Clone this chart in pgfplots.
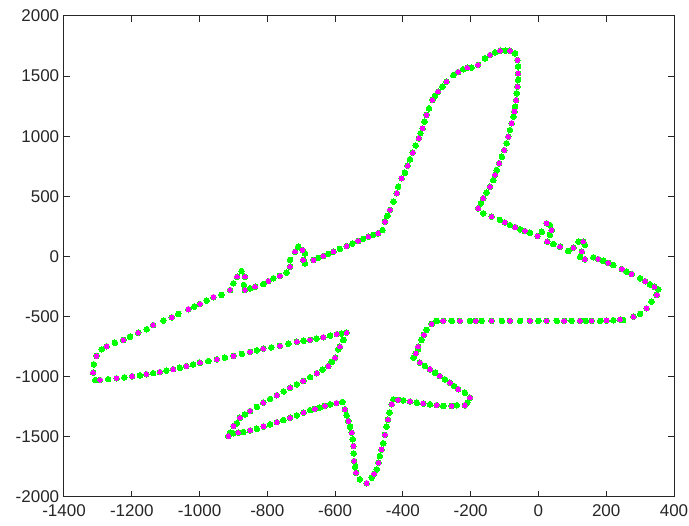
\documentclass[border=0pt]{standalone}
\usepackage{pgfplots}
\pgfplotsset{compat=1.18}
\usepackage{pgfplotstable}
\usepackage{fontspec}
\setmainfont{Liberation Sans}
\usetikzlibrary{calc}
\definecolor{pgreen}{RGB}{0,255,0}
\definecolor{pmag}{RGB}{255,0,255}
\pgfplotstableread{
x y
-113 1711
-98 1712
-84 1711
-69 1690
-62 1634
-60 1580
-60 1523
-60 1468
-62 1412
-64 1357
-66 1300
-69 1246
-71 1205
-74 1163
-79 1108
-84 1052
-89 996
-94 941
-101 885
-108 830
-116 775
-123 719
-128 678
-133 636
-143 580
-153 532
-163 484
-170 442
-178 401
-163 359
-138 331
-114 304
-99 283
-84 262
-69 244
-54 226
-40 212
-25 198
-3 170
10 206
24 276
34 262
39 220
34 179
26 123
44 104
64 81
88 46
103 73
118 123
132 123
137 96
128 40
123 -2
137 -23
162 -7
176 -21
191 -35
206 -53
221 -71
246 -104
260 -125
275 -146
300 -181
315 -206
329 -231
342 -252
354 -273
349 -320
334 -376
319 -431
300 -478
280 -501
250 -528
241 -525
221 -530
201 -533
182 -535
157 -535
140 -535
123 -535
98 -535
76 -535
54 -535
24 -535
0 -535
-25 -535
-54 -535
-84 -535
-108 -535
-138 -535
-168 -535
-185 -535
-202 -535
-232 -535
-256 -535
-281 -535
-300 -535
-315 -561
-330 -611
-338 -652
-345 -694
-355 -750
-355 -772
-362 -807
-369 -842
-350 -883
-335 -910
-320 -938
-305 -966
-291 -994
-276 -1022
-261 -1050
-249 -1077
-237 -1104
-217 -1133
-202 -1174
-210 -1216
-217 -1237
-241 -1237
-256 -1243
-281 -1243
-300 -1236
-320 -1229
-340 -1223
-359 -1216
-379 -1206
-399 -1196
-414 -1192
-428 -1188
-433 -1229
-440 -1299
-444 -1357
-448 -1415
-453 -1484
-458 -1553
-463 -1606
-468 -1659
-472 -1715
-477 -1770
-485 -1808
-492 -1840
-507 -1886
-527 -1853
-538 -1798
-541 -1750
-544 -1701
-545 -1638
-546 -1576
-548 -1520
-551 -1465
-556 -1416
-561 -1368
-566 -1320
-571 -1271
-578 -1210
-596 -1220
-615 -1229
-630 -1243
-645 -1257
-660 -1267
-674 -1277
-693 -1299
-713 -1321
-733 -1341
-753 -1360
-772 -1378
-792 -1395
-811 -1414
-831 -1432
-851 -1446
-871 -1460
-886 -1465
-900 -1470
-915 -1493
-910 -1465
-900 -1410
-890 -1387
-881 -1341
-866 -1313
-851 -1285
-831 -1250
-812 -1216
-792 -1185
-772 -1154
-752 -1122
-733 -1091
-713 -1063
-694 -1035
-674 -1003
-654 -971
-637 -941
-620 -911
-610 -876
-600 -842
-591 -772
-586 -750
-576 -694
-566 -634
-581 -640
-595 -645
-615 -658
-635 -672
-655 -683
-674 -694
-693 -701
-713 -709
-738 -726
-763 -744
-788 -756
-812 -767
-831 -780
-851 -794
-875 -810
-900 -827
-925 -841
-949 -855
-974 -869
-999 -883
-1019 -897
-1039 -911
-1058 -925
-1078 -937
-1098 -949
-1117 -961
-1137 -970
-1157 -979
-1176 -988
-1199 -996
-1222 -1005
-1245 -1013
-1270 -1020
-1294 -1027
-1308 -1027
-1314 -966
-1312 -897
-1304 -827
-1289 -772
-1274 -747
-1250 -717
-1225 -694
-1205 -667
-1181 -634
-1156 -605
-1137 -570
-1107 -534
-1082 -506
-1063 -478
-1033 -439
-1016 -417
-999 -395
-979 -367
-959 -339
-935 -320
-910 -279
-900 -223
-889 -168
-876 -121
-866 -168
-869 -237
-866 -279
-851 -265
-836 -251
-812 -229
-797 -205
-782 -181
-763 -162
-743 -135
-733 -85
-733 -29
-718 40
-709 82
-696 54
-689 27
-694 -29
-689 -57
-664 -29
-650 -12
-635 4
-620 22
-605 40
-586 63
-566 87
-549 108
-532 129
-517 147
-502 165
-488 179
-473 193
-460 220
-453 289
-446 338
-438 387
-428 456
-418 526
-414 581
-404 650
-394 697
-386 755
-379 809
-371 863
-362 923
-353 983
-348 1025
-342 1066
-336 1122
-330 1177
-323 1232
-313 1302
-305 1337
-296 1371
-283 1413
-271 1454
-251 1509
-237 1534
-222 1557
-210 1570
-197 1570
-178 1593
-158 1648
-143 1675
-128 1698
}\outline
\begin{document}
\begin{tikzpicture}
\begin{axis}[
  name=ax,
  scale only axis,
  width=610pt, height=481pt,
  xmin=-1400, xmax=400, ymin=-2000, ymax=2000,
  xtick={-1400,-1200,-1000,-800,-600,-400,-200,0,200,400},
  xticklabels={-1400,-1200,-1000,-800,-600,-400,-200,0,200,400},
  ytick={-2000,-1500,-1000,-500,0,500,1000,1500,2000},
  yticklabels={-2000,-1500,-1000,-500,0,500,1000,1500,2000},
  tick align=inside,
  major tick length=6pt,
  axis line style={line width=1pt, black!85},
  every tick/.style={line width=1pt, black!85},
  tick label style={font=\fontsize{17}{20}\selectfont, text=black!85},
  xticklabel style={yshift=-4.5pt},
  yticklabel style={xshift=-1.3pt},
  clip=false,
]
\addplot[only marks, color=pgreen, mark=*, mark size=2.8pt, mark options={draw=pgreen, fill=pgreen, line width=0pt}] table[x=x, y=y] {\outline};
\addplot[only marks, color=pmag, mark=*, mark size=2.3pt, mark options={draw=pmag, fill=pmag, line width=0pt}, each nth point=2, filter discard warning=false] table[x=x, y=y] {\outline};
\end{axis}
\pgfresetboundingbox
\path[use as bounding box] ($(ax.south west)+(-64pt,-29pt)$) rectangle ($(ax.north east)+(15pt,16pt)$);
\end{tikzpicture}
\end{document}
